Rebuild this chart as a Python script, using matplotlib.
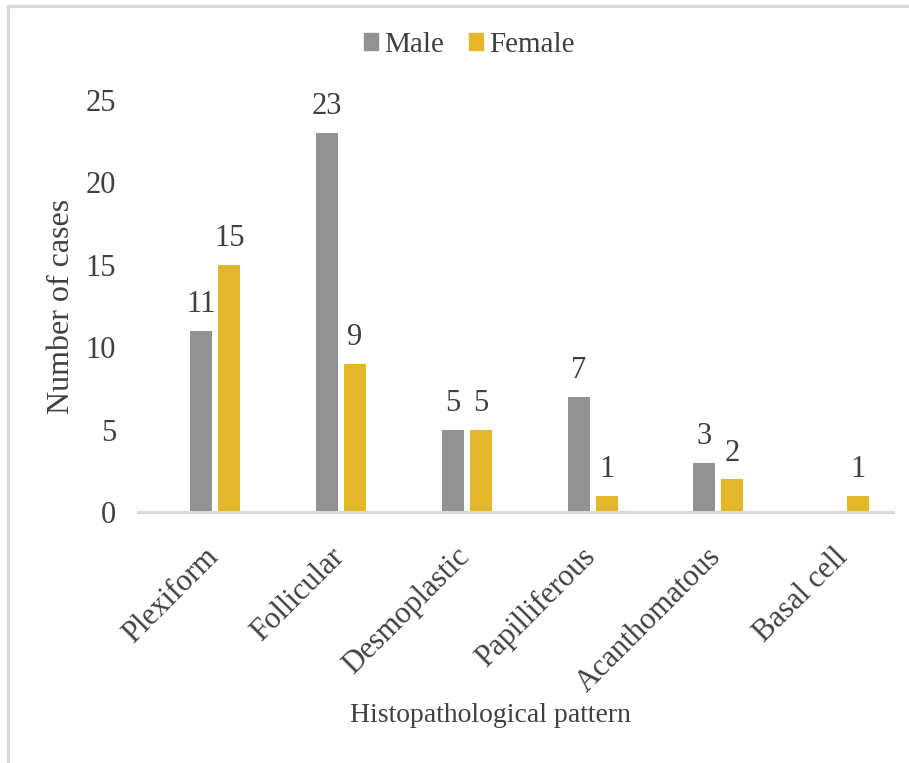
"""Clustered bar chart: histopathological pattern by sex."""

import matplotlib
matplotlib.use("Agg")
import matplotlib.pyplot as plt
from matplotlib.lines import Line2D
from matplotlib.patches import Patch
import numpy as np

categories = ["Plexiform", "Follicular", "Desmoplastic", "Papilliferous",
              "Acanthomatous", "Basal cell"]
male = [11, 23, 5, 7, 3, 0]
female = [15, 9, 5, 1, 2, 1]
yticks = [0, 5, 10, 15, 20, 25]

MALE_C = "#929292"
FEMALE_C = "#E4B62A"
TEXT_C = "#404040"
GRID_C = "#D9D9D9"

plt.rcParams["font.family"] = ["Liberation Serif", "DejaVu Serif"]

W, H = 909, 763
fig = plt.figure(figsize=(W / 100, H / 100), dpi=100)
ax = fig.add_axes([138.3 / W, 1 - 512 / H, (893 - 138.3) / W, (512 - 100) / H])

x = np.arange(len(categories))
bw = 0.175
off = 0.223
ax.bar(x, male, width=bw, color=MALE_C, label="Male")
ax.bar(x + off, female, width=bw, color=FEMALE_C, label="Female")

# data labels (Excel skips the zero bar)
for xi, v in zip(x, male):
    if v:
        ax.text(xi, v + 0.7, str(v), ha="center", va="bottom",
                fontsize=22, color=TEXT_C)
for xi, v in zip(x + off, female):
    if v:
        ax.text(xi, v + 0.7, str(v), ha="center", va="bottom",
                fontsize=22, color=TEXT_C)

ax.set_xlim(-0.5, len(categories) - 0.5)
ax.set_ylim(0, 25)
ax.set_yticks(yticks)
ax.set_yticklabels([str(t) for t in yticks], fontsize=22, color=TEXT_C)
ax.set_xticks(x + 0.02)
ax.set_xticklabels(categories, rotation=45, ha="right", va="top",
                   rotation_mode="anchor", fontsize=22, color=TEXT_C)
ax.tick_params(axis="both", length=0)
ax.tick_params(axis="y", pad=16)
ax.tick_params(axis="x", pad=22)

for side in ("top", "right", "left"):
    ax.spines[side].set_visible(False)
ax.spines["bottom"].set_color(GRID_C)
ax.spines["bottom"].set_linewidth(2.2)

ax.set_ylabel("Number of cases", fontsize=23, color=TEXT_C)
ax.yaxis.set_label_coords(-0.083, 0.5)
fig.text(490 / W, 1 - 715 / H, "Histopathological pattern", ha="center",
         va="center", fontsize=20, color=TEXT_C)

handles = [Patch(color=MALE_C), Patch(color=FEMALE_C)]
fig.legend(handles, ["Male", "Female"], loc="center",
           bbox_to_anchor=(469 / W, 1 - 45 / H), ncol=2, frameon=False,
           fontsize=21, handlelength=0.5, handleheight=0.5,
           handletextpad=0.2, columnspacing=0.85, labelcolor=TEXT_C)

# chart frame (only left and top edges are visible in the crop)
fig.add_artist(Line2D([8 / W, 8 / W], [0, 1 - 6 / H], transform=fig.transFigure,
                      color=GRID_C, lw=2.2))
fig.add_artist(Line2D([8 / W, 1], [1 - 6 / H, 1 - 6 / H], transform=fig.transFigure,
                      color=GRID_C, lw=2.2))

fig.savefig("out.png", dpi=100)
plt.close(fig)
